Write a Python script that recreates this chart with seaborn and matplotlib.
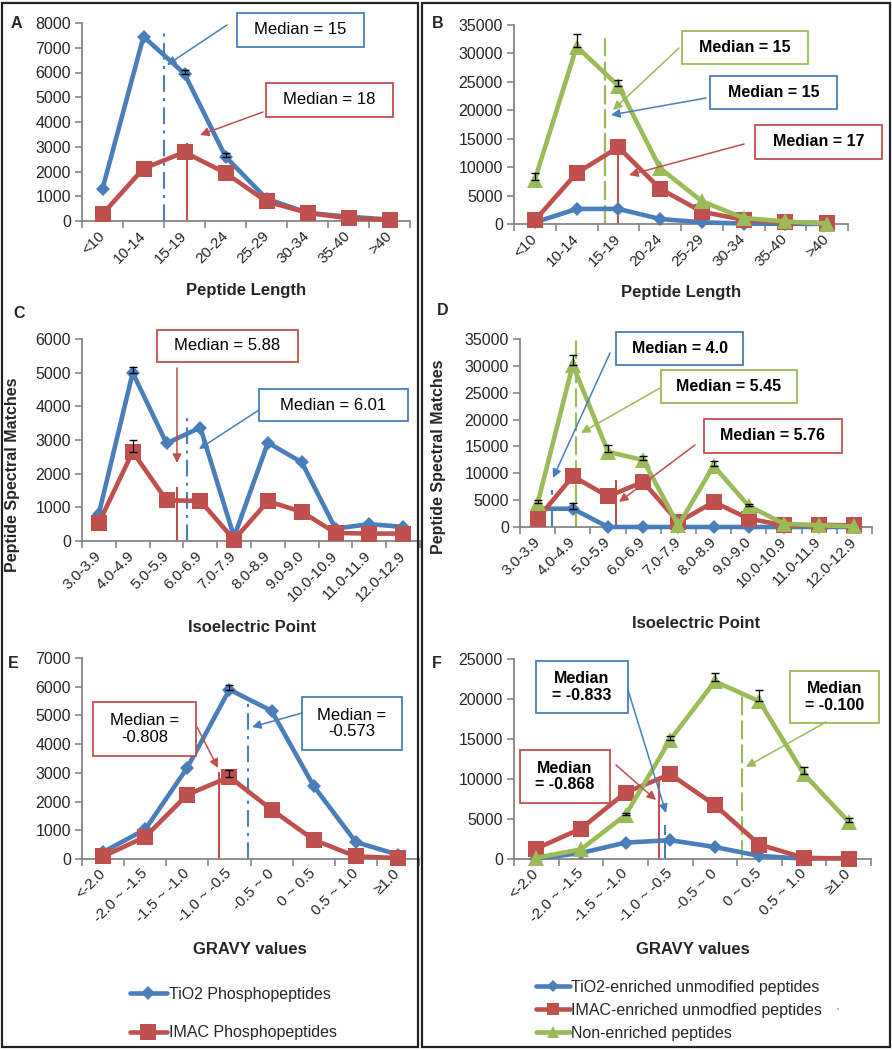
import numpy as np
import seaborn as sns
import matplotlib
matplotlib.use('Agg')
import matplotlib.pyplot as plt
from matplotlib.patches import Rectangle, FancyArrowPatch

sns.set_theme(style='white')
plt.rcParams['font.family'] = ['Liberation Sans', 'DejaVu Sans']

W, H = 892, 1050
BLUE = '#4A7EBB'
RED = '#C0504D'
GREEN = '#9BBB59'
AX = '#868686'
TXT = '#262626'

# ---------------- data ----------------
len_cats = ['<10', '10-14', '15-19', '20-24', '25-29', '30-34', '35-40', '>40']
pi_cats = ['3.0-3.9', '4.0-4.9', '5.0-5.9', '6.0-6.9', '7.0-7.9', '8.0-8.9',
           '9.0-9.0', '10.0-10.9', '11.0-11.9', '12.0-12.9']
gravy_cats = ['<-2.0', '-2.0 ~ -1.5', '-1.5 ~ -1.0', '-1.0 ~ -0.5', '-0.5 ~ 0',
              '0 ~ 0.5', '0.5 ~ 1.0', '≥1.0']

a_tio2 = [1300, 7450, 5950, 2600, 900, 330, 170, 60]
a_tio2_err = [0, 0, 150, 150, 0, 0, 0, 0]
a_imac = [280, 2120, 2780, 1940, 790, 330, 110, 50]

b_tio2 = [280, 2650, 2650, 880, 290, 80, 30, 10]
b_imac = [650, 8950, 13500, 6200, 2150, 750, 300, 170]
b_non = [7800, 31200, 24300, 9800, 4000, 1050, 450, 60]
b_non_err = [1100, 2300, 1000, 0, 0, 0, 0, 0]

c_tio2 = [815, 5000, 2900, 3370, 120, 2920, 2340, 370, 500, 420]
c_tio2_err = [0, 180, 0, 0, 0, 0, 0, 0, 0, 0]
c_imac = [540, 2650, 1210, 1190, 40, 1180, 870, 240, 220, 220]
c_imac_err = [0, 350, 0, 0, 0, 0, 0, 0, 0, 0]

d_tio2 = [3400, 3400, 0, 0, 0, 0, 0, 0, 0, 0]
d_tio2_err = [0, 1000, 0, 0, 0, 0, 0, 0, 0, 0]
d_imac = [1550, 9450, 5700, 8400, 900, 4650, 1550, 300, 400, 300]
d_non = [4400, 30200, 14000, 12450, 300, 11400, 3900, 600, 300, 120]
d_non_err = [700, 1800, 1250, 800, 0, 900, 300, 0, 0, 0]

e_tio2 = [240, 1030, 3180, 5900, 5160, 2540, 590, 150]
e_tio2_err = [0, 0, 0, 150, 0, 0, 0, 0]
e_imac = [90, 770, 2240, 2860, 1720, 670, 90, 35]
e_imac_err = [0, 0, 0, 230, 0, 0, 0, 0]

f_tio2 = [40, 750, 2050, 2350, 1500, 380, 40, 120]
f_imac = [1300, 3800, 8300, 10600, 6750, 1800, 150, 60]
f_non = [150, 1200, 5500, 14900, 22200, 19700, 10600, 4650]
f_non_err = [0, 0, 300, 500, 1050, 1450, 900, 500]

# median reference lines: (category position, line top value)
a_med = {'tio2': (1.5, 7650), 'imac': (2.07, 3150)}
b_med = {'tio2': (1.69, 26800), 'imac': (2.0, 13340), 'non': (1.69, 32700)}
c_med = {'tio2': (2.62, 3650), 'imac': (2.30, 1600)}
d_med = {'tio2': (0.42, 6850), 'imac': (2.24, 8700), 'non': (1.08, 35500)}
e_med = {'tio2': (3.44, 5590), 'imac': (2.76, 3030)}
f_med = {'tio2': (2.89, 4220), 'imac': (2.76, 9870), 'non': (4.61, 20500)}

fig = plt.figure(figsize=(W / 100, H / 100), dpi=100)
fig.patch.set_facecolor('white')


def pf(x, y):
    return (x / W, 1 - y / H)


def add_ax(x0, y0, x1, y1):
    return fig.add_axes([x0 / W, 1 - y1 / H, (x1 - x0) / W, (y1 - y0) / H])


def style_ax(ax, cats, ymax, ystep):
    n = len(cats)
    ax.set_xlim(-0.5, n - 0.5)
    ax.set_ylim(0, ymax)
    ax.set_yticks(np.arange(0, ymax + 1, ystep))
    ax.set_yticklabels([str(int(v)) for v in np.arange(0, ymax + 1, ystep)],
                       fontsize=11.5, color=TXT)
    ax.set_xticks(np.arange(n))
    ax.set_xticklabels(cats, rotation=45, ha='right', va='center',
                       rotation_mode='anchor', fontsize=11, color=TXT)
    ax.set_xticks(np.arange(-0.5, n), minor=True)
    ax.tick_params(axis='x', which='major', length=0, pad=9, bottom=True)
    ax.tick_params(axis='x', which='minor', length=5, color=AX, width=1.2,
                   direction='out', bottom=True)
    ax.tick_params(axis='y', length=5, color=AX, width=1.2, direction='out',
                   pad=3, left=True)
    for s in ['top', 'right']:
        ax.spines[s].set_visible(False)
    for s in ['left', 'bottom']:
        ax.spines[s].set_color(AX)
        ax.spines[s].set_linewidth(1.3)
    ax.set_xlabel('')
    ax.set_ylabel('')
    ax.grid(False)
    ax.patch.set_alpha(0)


def series(ax, vals, color, marker, ms, label, lw=3.3):
    xs = np.arange(len(vals))
    sns.lineplot(x=xs, y=vals, ax=ax, color=color, marker=marker,
                 markersize=ms, markeredgewidth=0, linewidth=lw,
                 label=label, errorbar=None, legend=False)
    ln = ax.lines[-1]
    ln.set_clip_on(False)
    ln.set_zorder(3)
    return ln


def errs(ax, vals, err):
    vals = np.asarray(vals, float)
    err = np.asarray(err, float)
    idx = np.nonzero(err)[0]
    if len(idx) == 0:
        return
    ax.errorbar(idx, vals[idx], yerr=[np.zeros(len(idx)), err[idx]], fmt='none',
                ecolor='black', elinewidth=0.9, capsize=3, capthick=1.0,
                zorder=6, clip_on=False)


def median_line(ax, pos, color, style):
    x, top = pos
    if style == 'dashdot':
        ax.vlines(x, 0, top, colors=color, linestyles=(0, (8, 3, 1.5, 3)),
                  linewidth=1.5, zorder=1.5)
    elif style == 'dashed':
        ax.vlines(x, 0, top, colors=color, linestyles=(0, (9, 2.5)),
                  linewidth=1.5, zorder=1.5)
    else:
        ax.vlines(x, 0, top, colors=color, linestyles='solid',
                  linewidth=1.5, zorder=1.5)


def box(x0, y0, x1, y1, text, color, bold=False, fs=12):
    r = Rectangle(pf(x0, y1), (x1 - x0) / W, (y1 - y0) / H, transform=fig.transFigure,
                  facecolor='white', edgecolor=color, linewidth=1.3, zorder=5)
    fig.patches.append(r)
    cx, cy = pf((x0 + x1) / 2, (y0 + y1) / 2)
    fig.text(cx, cy, text, ha='center', va='center', fontsize=fs, color='black',
             fontweight='bold' if bold else 'normal', zorder=6, linespacing=1.15)


def arrow(x0, y0, x1, y1, color):
    a = FancyArrowPatch(pf(x0, y0), pf(x1, y1), transform=fig.transFigure,
                        arrowstyle='-|>', mutation_scale=13, color=color,
                        linewidth=1.1, shrinkA=0, shrinkB=0, zorder=7)
    fig.patches.append(a)


# frames
for (x0, y0, x1, y1) in [(2, 3, 418, 1047), (422, 3, 890, 1047)]:
    fig.patches.append(Rectangle(pf(x0, y1), (x1 - x0) / W, (y1 - y0) / H,
                                 transform=fig.transFigure, fill=False,
                                 edgecolor='#222222', linewidth=1.6, zorder=0))

MS_D, MS_S, MS_T = 7.5, 11, 12

# ---------------- A ----------------
axA = add_ax(82, 23, 410, 221)
style_ax(axA, len_cats, 8000, 1000)
median_line(axA, a_med['tio2'], BLUE, 'dashdot')
median_line(axA, a_med['imac'], RED, 'solid')
lA1 = series(axA, a_tio2, BLUE, 'D', MS_D, 'TiO2 Phosphopeptides')
lA2 = series(axA, a_imac, RED, 's', MS_S, 'IMAC Phosphopeptides')
errs(axA, a_tio2, a_tio2_err)

# ---------------- B ----------------
axB = add_ax(514, 25, 848, 224)
style_ax(axB, len_cats, 35000, 5000)
median_line(axB, b_med['tio2'], BLUE, 'dashed')
median_line(axB, b_med['non'], GREEN, 'dashed')
median_line(axB, b_med['imac'], RED, 'solid')
series(axB, b_tio2, BLUE, 'D', MS_D, 'TiO2')
series(axB, b_imac, RED, 's', MS_S, 'IMAC')
series(axB, b_non, GREEN, '^', MS_T, 'Non')
errs(axB, b_non, b_non_err)

# ---------------- C ----------------
axC = add_ax(82, 339, 420, 541)
style_ax(axC, pi_cats, 6000, 1000)
median_line(axC, c_med['tio2'], BLUE, 'dashdot')
median_line(axC, c_med['imac'], RED, 'solid')
series(axC, c_tio2, BLUE, 'D', MS_D, 'TiO2')
series(axC, c_imac, RED, 's', MS_S, 'IMAC')
errs(axC, c_tio2, c_tio2_err)
errs(axC, c_imac, c_imac_err)

# ---------------- D ----------------
axD = add_ax(520, 339, 872, 527)
style_ax(axD, pi_cats, 35000, 5000)
median_line(axD, d_med['tio2'], BLUE, 'dashdot')
median_line(axD, d_med['non'], GREEN, 'dashed')
median_line(axD, d_med['imac'], RED, 'solid')
series(axD, d_tio2, BLUE, 'D', MS_D, 'TiO2')
series(axD, d_imac, RED, 's', MS_S, 'IMAC')
series(axD, d_non, GREEN, '^', MS_T, 'Non')
errs(axD, d_tio2, d_tio2_err)
errs(axD, d_non, d_non_err)

# ---------------- E ----------------
axE = add_ax(82, 658, 419, 859)
style_ax(axE, gravy_cats, 7000, 1000)
median_line(axE, e_med['tio2'], BLUE, 'dashdot')
median_line(axE, e_med['imac'], RED, 'solid')
series(axE, e_tio2, BLUE, 'D', MS_D, 'TiO2')
series(axE, e_imac, RED, 's', MS_S, 'IMAC')
errs(axE, e_tio2, e_tio2_err)
errs(axE, e_imac, e_imac_err)

# ---------------- F ----------------
axF = add_ax(514, 659, 871, 859)
style_ax(axF, gravy_cats, 25000, 5000)
median_line(axF, f_med['tio2'], BLUE, 'dashed')
median_line(axF, f_med['non'], GREEN, 'dashed')
median_line(axF, f_med['imac'], RED, 'solid')
lF1 = series(axF, f_tio2, BLUE, 'D', MS_D, 'TiO2-enriched unmodified peptides')
lF2 = series(axF, f_imac, RED, 's', MS_S, 'IMAC-enriched unmodfied peptides')
lF3 = series(axF, f_non, GREEN, '^', MS_T, 'Non-enriched peptides')
errs(axF, f_non, f_non_err)

# ---------------- labels ----------------
for (x, y, t) in [(16, 23, 'A'), (438, 23, 'B'), (19, 313, 'C'), (443, 311, 'D'),
                  (13, 663, 'E'), (437, 663, 'F')]:
    fig.text(*pf(x, y), t, ha='center', va='center', fontsize=11.5,
             fontweight='bold', color=TXT)

for (x, y, t) in [(246, 290, 'Peptide Length'), (681, 293, 'Peptide Length'),
                  (252, 628, 'Isoelectric Point'), (696, 623, 'Isoelectric Point'),
                  (250, 950, 'GRAVY values'), (693, 950, 'GRAVY values')]:
    fig.text(*pf(x, y), t, ha='center', va='center', fontsize=12,
             fontweight='bold', color=TXT)

for (x, y) in [(13, 475), (438, 457)]:
    fig.text(*pf(x, y), 'Peptide Spectral Matches', ha='center', va='center',
             rotation=90, fontsize=11.5, fontweight='bold', color=TXT)

# ---------------- median annotations ----------------
box(237, 13, 364, 47, 'Median = 15', BLUE)
arrow(227, 25, 167, 65, BLUE)
box(266, 83, 393, 117, 'Median = 18', RED)
arrow(263, 112, 200, 135, RED)

box(682, 31, 808, 64, 'Median = 15', GREEN, bold=True, fs=11.5)
arrow(679, 48, 613, 110, GREEN)
box(710, 76, 837, 109, 'Median = 15', BLUE, bold=True, fs=11.5)
arrow(706, 98, 611, 115, BLUE)
box(755, 125, 882, 159, 'Median = 17', RED, bold=True, fs=11.5)
arrow(744, 144, 629, 175, RED)

box(157, 330, 298, 362, 'Median = 5.88', RED)
arrow(177, 368, 177, 463, RED)
box(259, 389, 408, 421, 'Median = 6.01', BLUE)
arrow(259, 410, 199, 449, BLUE)

box(616, 332, 743, 365, 'Median = 4.0', BLUE, bold=True, fs=11.5)
arrow(610, 353, 553, 478, BLUE)
box(661, 370, 797, 403, 'Median = 5.45', GREEN, bold=True, fs=11.5)
arrow(660, 388, 581, 433, GREEN)
box(704, 419, 842, 453, 'Median = 5.76', RED, bold=True, fs=11.5)
arrow(695, 445, 619, 502, RED)

box(93, 702, 196, 756, 'Median =\n-0.808', RED)
arrow(197, 727, 218, 768, RED)
box(302, 697, 402, 750, 'Median =\n-0.573', BLUE)
arrow(302, 713, 252, 727, BLUE)

box(536, 661, 628, 713, 'Median\n= -0.833', BLUE, bold=True, fs=11.5)
arrow(628, 690, 666, 813, BLUE)
box(520, 750, 610, 803, 'Median\n= -0.868', RED, bold=True, fs=11.5)
arrow(616, 765, 656, 800, RED)
box(790, 671, 879, 723, 'Median\n= -0.100', GREEN, bold=True, fs=11.5)
arrow(826, 722, 746, 767, GREEN)

# ---------------- legends ----------------
fig.legend(handles=[lA1, lA2], labels=['TiO2 Phosphopeptides', 'IMAC Phosphopeptides'],
           loc='upper left', bbox_to_anchor=pf(130, 987), frameon=False,
           fontsize=11.5, handlelength=2.3, handletextpad=0.15, labelspacing=1.45,
           borderpad=0, borderaxespad=0, markerscale=1.0)
fig.legend(handles=[lF1, lF2, lF3],
           labels=['TiO2-enriched unmodified peptides', 'IMAC-enriched unmodfied peptides',
                   'Non-enriched peptides'],
           loc='upper left', bbox_to_anchor=pf(536, 980), frameon=False,
           fontsize=11.5, handlelength=2.1, handletextpad=0.1, labelspacing=0.5,
           borderpad=0, borderaxespad=0, markerscale=0.75)
fig.text(*pf(838, 1009), '·', ha='center', va='center', fontsize=13, color=GREEN)

fig.savefig('out.png', dpi=100, facecolor='white')
